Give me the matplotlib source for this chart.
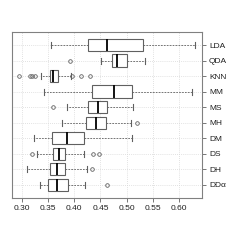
import matplotlib
matplotlib.use("Agg")
import matplotlib.pyplot as plt

methods = ["LDA", "QDA", "KNN", "MM", "MS", "MH", "DM", "DS", "DH", "DDα"]
whislo = [0.355, 0.451, 0.336, 0.343, 0.387, 0.376, 0.324, 0.329, 0.310, 0.335]
q1     = [0.427, 0.472, 0.353, 0.434, 0.427, 0.423, 0.357, 0.359, 0.353, 0.351]
med    = [0.462, 0.481, 0.360, 0.475, 0.446, 0.442, 0.387, 0.371, 0.367, 0.368]
q3     = [0.531, 0.500, 0.370, 0.510, 0.463, 0.460, 0.419, 0.383, 0.383, 0.388]
whishi = [0.630, 0.535, 0.394, 0.624, 0.513, 0.508, 0.511, 0.418, 0.425, 0.421]
fliers = [[], [0.392], [0.295, 0.316, 0.320, 0.325, 0.3965, 0.4125, 0.430], [],
          [0.359], [0.519], [], [0.319, 0.435, 0.448], [0.4335], [0.462]]
xticks = [0.30, 0.35, 0.40, 0.45, 0.50, 0.55, 0.60]

fig = plt.figure(figsize=(2.4, 2.4), dpi=100)
ax = fig.add_axes([0.05, 0.175, 0.792, 0.692])

n = len(methods)
positions = [n - i for i in range(n)]
stats = []
for i in range(n):
    stats.append(dict(label=methods[i], whislo=whislo[i], q1=q1[i], med=med[i],
                      q3=q3[i], whishi=whishi[i], fliers=fliers[i]))

gray = "#606060"
ax.bxp(stats, positions=positions, vert=False, widths=0.8, patch_artist=True,
       boxprops=dict(facecolor="white", edgecolor=gray, linewidth=0.8),
       medianprops=dict(color="black", linewidth=1.3),
       whiskerprops=dict(color=gray, linestyle=(0, (2, 1.5)), linewidth=0.6),
       capprops=dict(color=gray, linewidth=0.8),
       capwidths=0.4,
       flierprops=dict(marker="o", markersize=2.6, markerfacecolor="none",
                       markeredgecolor=gray, markeredgewidth=0.6),
       zorder=3)

ax.set_xlim(0.2815, 0.6438)
ax.set_ylim(0.15, n + 0.85)
ax.set_xticks(xticks)
ax.set_xticklabels([f"{t:.2f}" for t in xticks])
ax.set_yticks(positions)
ax.set_yticklabels(methods)
ax.yaxis.tick_right()

for x in xticks:
    ax.axvline(x, color="#d8d8d8", linestyle=(0, (1, 1.5)), linewidth=0.6, zorder=0)
for y in positions:
    ax.axhline(y, color="#d8d8d8", linestyle=(0, (1, 1.5)), linewidth=0.6, zorder=0)

for s in ax.spines.values():
    s.set_color("#808080")
    s.set_linewidth(0.8)
ax.tick_params(axis="both", colors="#606060", labelcolor="#202020",
               labelsize=6, length=3, width=0.6, pad=2)
for lab in ax.get_xticklabels() + ax.get_yticklabels():
    lab.set_family(["Liberation Sans", "DejaVu Sans"])

fig.savefig("out.png", dpi=100)
